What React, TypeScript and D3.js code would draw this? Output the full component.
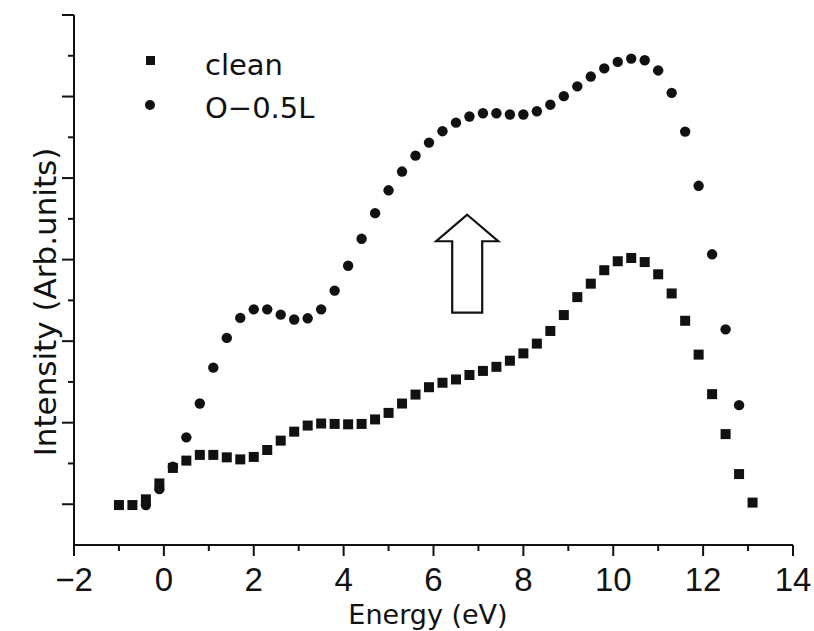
import React from "react";
import * as d3 from "d3";

// photon energy (eV), same grid for both spectra
const energyClean = [
  -1.0, -0.7, -0.4, -0.1, 0.2, 0.5, 0.8, 1.1, 1.4, 1.7, 2.0, 2.3, 2.6, 2.9, 3.2, 3.5,
  3.8, 4.1, 4.4, 4.7, 5.0, 5.3, 5.6, 5.9, 6.2, 6.5, 6.8, 7.1, 7.4, 7.7, 8.0, 8.3,
  8.6, 8.9, 9.2, 9.5, 9.8, 10.1, 10.4, 10.7, 11.0, 11.3, 11.6, 11.9, 12.2, 12.5, 12.8, 13.1,
];
const intensityClean = [
  0.98, 0.98, 1.12, 1.51, 1.89, 2.07, 2.21, 2.21, 2.15, 2.1, 2.16, 2.33, 2.56, 2.78, 2.93, 2.98,
  2.97, 2.96, 2.97, 3.08, 3.24, 3.47, 3.69, 3.87, 3.98, 4.06, 4.17, 4.27, 4.37, 4.52, 4.7, 4.94,
  5.25, 5.64, 6.08, 6.41, 6.74, 6.96, 7.04, 6.94, 6.64, 6.17, 5.5, 4.67, 3.7, 2.72, 1.74, 1.04,
];

const energyOxygen = [
  -0.4, -0.1, 0.2, 0.5, 0.8, 1.1, 1.4, 1.7, 2.0, 2.3, 2.6, 2.9, 3.2, 3.5,
  3.8, 4.1, 4.4, 4.7, 5.0, 5.3, 5.6, 5.9, 6.2, 6.5, 6.8, 7.1, 7.4, 7.7, 8.0, 8.3,
  8.6, 8.9, 9.2, 9.5, 9.8, 10.1, 10.4, 10.7, 11.0, 11.3, 11.6, 11.9, 12.2, 12.5, 12.8,
];
const intensityOxygen = [
  0.98, 1.37, 1.92, 2.64, 3.47, 4.35, 5.08, 5.57, 5.78, 5.78, 5.65, 5.53, 5.56, 5.78,
  6.24, 6.85, 7.51, 8.14, 8.7, 9.16, 9.55, 9.87, 10.15, 10.36, 10.51, 10.59, 10.59, 10.56, 10.56, 10.64,
  10.8, 11.01, 11.25, 11.49, 11.69, 11.85, 11.93, 11.89, 11.64, 11.09, 10.14, 8.81, 7.13, 5.29, 3.43,
];

const xTicks = [-2, -1, 0, 1, 2, 3, 4, 5, 6, 7, 8, 9, 10, 11, 12, 13, 14];
const yTicks = [1, 2, 3, 4, 5, 6, 7, 8, 9, 10, 11, 12, 13];
const legendLabels = ["clean", "O\u22120.5L"];

// arrow annotation in data units
const arrowAt = { x: 6.75, tip: 8.1, neck: 7.45, base: 5.7 };

const W = 814;
const H = 631;

export default function App() {
  const x = d3.scaleLinear().domain([-2, 14]).range([74, 793]);
  const y = d3.scaleLinear().domain([0, 13]).range([545, 15]);

  const clean = energyClean.map((e, i) => ({ e, v: intensityClean[i] }));
  const oxy = energyOxygen.map((e, i) => ({ e, v: intensityOxygen[i] }));

  const ax = x(arrowAt.x);
  const arrowPath = d3.path();
  arrowPath.moveTo(ax, y(arrowAt.tip));
  arrowPath.lineTo(ax + 31, y(arrowAt.neck));
  arrowPath.lineTo(ax + 15, y(arrowAt.neck));
  arrowPath.lineTo(ax + 15, y(arrowAt.base));
  arrowPath.lineTo(ax - 15, y(arrowAt.base));
  arrowPath.lineTo(ax - 15, y(arrowAt.neck));
  arrowPath.lineTo(ax - 31, y(arrowAt.neck));
  arrowPath.closePath();

  const tickFont = "'Liberation Sans', Arial, sans-serif";
  const textFont = "'DejaVu Sans', sans-serif";

  return (
    <svg
      width={W}
      height={H}
      style={{ position: "absolute", left: 0, top: 0, background: "#fff" }}
    >
      {/* axes */}
      <g stroke="#111" strokeWidth={2} fill="none">
        <line x1={x(-2)} x2={x(-2)} y1={y(13)} y2={y(0)} />
        <line x1={x(-2)} x2={x(14)} y1={y(0)} y2={y(0)} />
        {yTicks.map((t) => (
          <line
            key={"yt" + t}
            x1={x(-2) - (t % 2 === 1 ? 12 : 6)}
            x2={x(-2)}
            y1={y(t)}
            y2={y(t)}
          />
        ))}
        {xTicks.map((t) => (
          <line
            key={"xt" + t}
            x1={x(t)}
            x2={x(t)}
            y1={y(0)}
            y2={y(0) + (t % 2 === 0 ? 11 : 6)}
          />
        ))}
      </g>

      {xTicks
        .filter((t) => t % 2 === 0)
        .map((t) => (
          <text
            key={"xl" + t}
            x={x(t)}
            y={591}
            textAnchor="middle"
            fontFamily={tickFont}
            fontSize={33}
            fill="#111"
          >
            {t < 0 ? "\u2212" + Math.abs(t) : t}
          </text>
        ))}

      <text
        x={428}
        y={624}
        textAnchor="middle"
        fontFamily={textFont}
        fontSize={27}
        fill="#111"
      >
        Energy (eV)
      </text>
      <text
        transform="translate(56,302) rotate(-90)"
        textAnchor="middle"
        fontFamily={textFont}
        fontSize={31}
        fill="#111"
      >
        Intensity (Arb.units)
      </text>

      {/* arrow */}
      <path d={arrowPath.toString()} fill="#fff" stroke="#111" strokeWidth={2.2} />

      {/* O-0.5L circles underneath */}
      <g fill="#111">
        {oxy.map((d, i) => (
          <circle key={"o" + i} cx={x(d.e)} cy={y(d.v)} r={5.2} />
        ))}
      </g>
      <g fill="#111">
        {clean.map((d, i) => (
          <rect key={"c" + i} x={x(d.e) - 5} y={y(d.v) - 5} width={10} height={10} />
        ))}
      </g>

      {/* legend */}
      <rect x={146} y={56} width={9} height={9} fill="#111" />
      <circle cx={150} cy={105} r={5} fill="#111" />
      <text x={205} y={75} fontFamily={textFont} fontSize={29} fill="#111">
        {legendLabels[0]}
      </text>
      <text x={205} y={118} fontFamily={textFont} fontSize={29} fill="#111">
        {legendLabels[1]}
      </text>
    </svg>
  );
}
